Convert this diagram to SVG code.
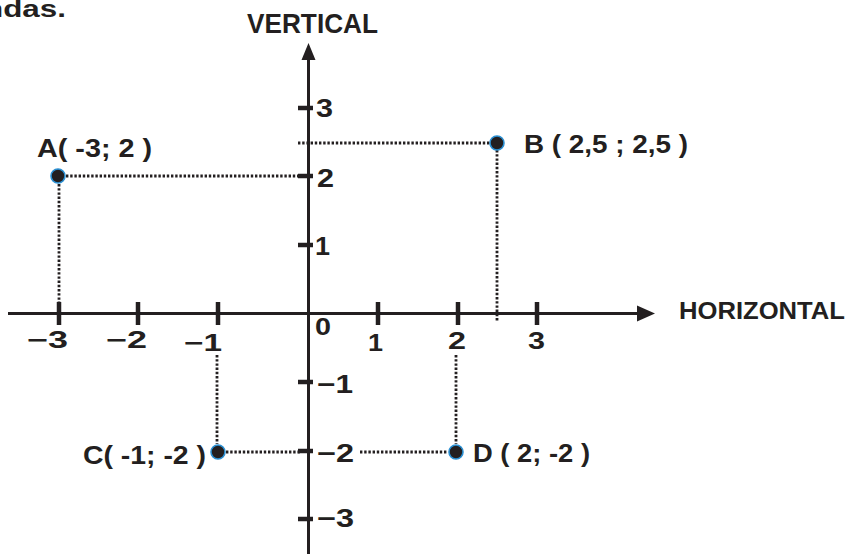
<svg xmlns="http://www.w3.org/2000/svg" width="853" height="554" viewBox="0 0 853 554">
<style>
text{font-family:"Liberation Sans",Arial,sans-serif;font-weight:bold;fill:#231f20}
.ax{stroke:#231f20;stroke-width:3;fill:none}
.tk{stroke:#231f20;stroke-width:4.5}
.dot{stroke:#231f20;stroke-width:2.8;stroke-dasharray:2.4 1.8;fill:none}
.pt{fill:#231f20;stroke:#2a8fd2;stroke-width:1.6}
.xl{font-size:23px}
.yl{font-size:25px}
.pl{font-size:25px}
</style>
<text x="-16" y="17" font-size="24" textLength="82" lengthAdjust="spacingAndGlyphs">ndas.</text>
<g id="connectors">
<line class="dot" x1="66" y1="176" x2="298" y2="176"/>
<line class="dot" x1="59" y1="184" x2="59" y2="302"/>
<line class="dot" x1="298" y1="143" x2="490" y2="143"/>
<line class="dot" x1="497" y1="150" x2="497" y2="321"/>
<line class="dot" x1="226" y1="452" x2="300" y2="452"/>
<line class="dot" x1="217" y1="355" x2="217" y2="444"/>
<line class="dot" x1="360" y1="452" x2="448" y2="452"/>
<line class="dot" x1="456" y1="355" x2="456" y2="444"/>
</g>
<g id="axes">
<line class="ax" x1="8" y1="313.5" x2="642" y2="313.5"/>
<polygon points="655,313.5 637,305.5 637,321.5" fill="#231f20"/>
<line class="ax" x1="308.5" y1="56" x2="308.5" y2="554"/>
<polygon points="308.5,43 301.5,60 315.5,60" fill="#231f20"/>
<text x="247" y="33" font-size="28" textLength="131" lengthAdjust="spacingAndGlyphs">VERTICAL</text>
<text x="679" y="319" font-size="24" textLength="166" lengthAdjust="spacingAndGlyphs">HORIZONTAL</text>
</g>
<g id="xticks">
<line class="tk" x1="59" y1="302" x2="59" y2="325"/>
<line class="tk" x1="138" y1="302" x2="138" y2="325"/>
<line class="tk" x1="218" y1="302" x2="218" y2="325"/>
<line class="tk" x1="378" y1="302" x2="378" y2="325"/>
<line class="tk" x1="458" y1="302" x2="458" y2="325"/>
<line class="tk" x1="537" y1="302" x2="537" y2="325"/>
<text class="xl" x="27" y="348" textLength="41" lengthAdjust="spacingAndGlyphs">−3</text>
<text class="xl" x="106" y="348" textLength="41" lengthAdjust="spacingAndGlyphs">−2</text>
<text class="xl" x="184" y="351" textLength="38" lengthAdjust="spacingAndGlyphs">−1</text>
<text class="xl" x="315" y="335" textLength="16" lengthAdjust="spacingAndGlyphs">0</text>
<text class="xl" x="368" y="351" textLength="15" lengthAdjust="spacingAndGlyphs">1</text>
<text class="xl" x="448" y="349" textLength="18" lengthAdjust="spacingAndGlyphs">2</text>
<text class="xl" x="528" y="349" textLength="17" lengthAdjust="spacingAndGlyphs">3</text>
</g>
<g id="yticks">
<line class="tk" x1="298" y1="108" x2="313" y2="108"/>
<line class="tk" x1="298" y1="176" x2="313" y2="176"/>
<line class="tk" x1="298" y1="245" x2="313" y2="245"/>
<line class="tk" x1="298" y1="382" x2="313" y2="382"/>
<line class="tk" x1="298" y1="451" x2="313" y2="451"/>
<line class="tk" x1="298" y1="519" x2="313" y2="519"/>
<text class="yl" x="316" y="117" textLength="17" lengthAdjust="spacingAndGlyphs">3</text>
<text class="yl" x="317" y="187" textLength="17" lengthAdjust="spacingAndGlyphs">2</text>
<text class="yl" x="315" y="255" textLength="15" lengthAdjust="spacingAndGlyphs">1</text>
<text class="yl" x="317" y="393" font-size="27" textLength="36" lengthAdjust="spacingAndGlyphs">−1</text>
<text class="yl" x="317" y="462" font-size="26" textLength="37" lengthAdjust="spacingAndGlyphs">−2</text>
<text class="yl" x="317" y="527" textLength="37" lengthAdjust="spacingAndGlyphs">−3</text>
</g>
<g id="A">
<circle class="pt" cx="58" cy="176" r="7"/>
<text class="pl" x="37" y="157" font-size="26" textLength="115" lengthAdjust="spacingAndGlyphs">A( -3; 2 )</text>
</g>
<g id="B">
<circle class="pt" cx="497" cy="143" r="7"/>
<text class="pl" x="524" y="153" textLength="164" lengthAdjust="spacingAndGlyphs">B ( 2,5 ; 2,5 )</text>
</g>
<g id="C">
<circle class="pt" cx="218" cy="452" r="7"/>
<text class="pl" x="83" y="464" textLength="123" lengthAdjust="spacingAndGlyphs">C( -1; -2 )</text>
</g>
<g id="D">
<circle class="pt" cx="456" cy="452" r="7"/>
<text class="pl" x="473" y="462" textLength="117" lengthAdjust="spacingAndGlyphs">D ( 2; -2 )</text>
</g>
</svg>
